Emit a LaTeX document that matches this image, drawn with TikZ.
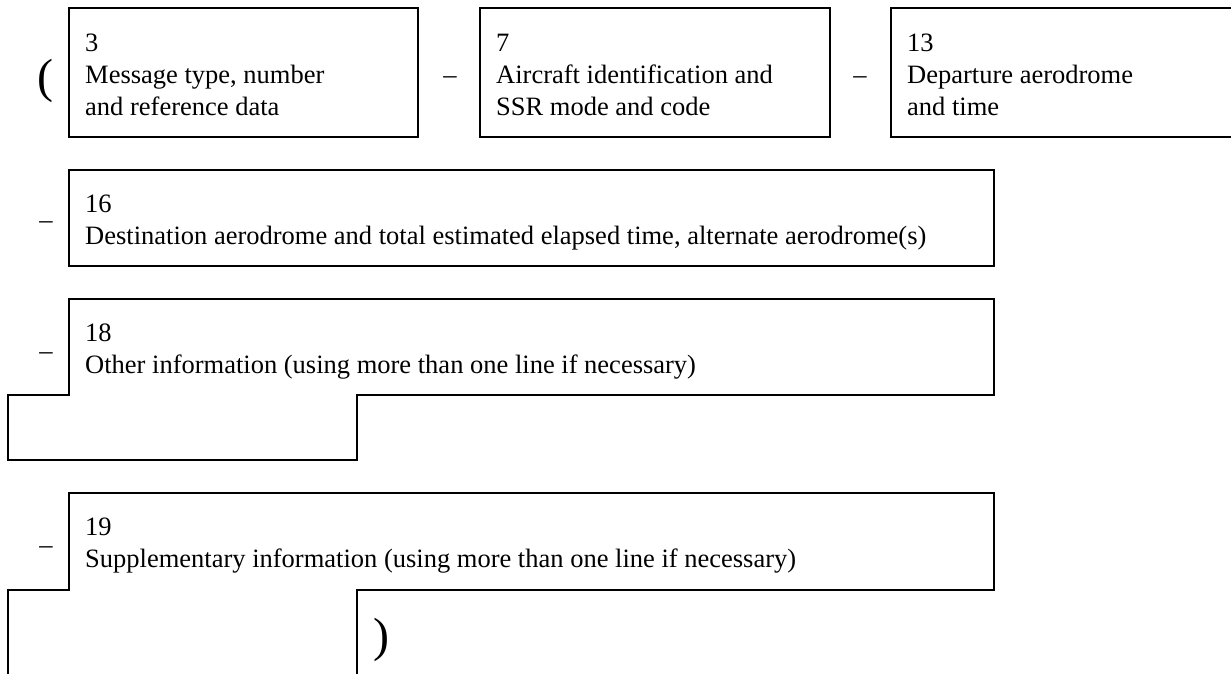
\documentclass[tikz,border=0pt]{standalone}
\usepackage{fontspec}
\setmainfont{Liberation Serif}
\begin{document}
\begin{tikzpicture}[x=1pt,y=-1pt,
  box/.style={draw=black, line width=1.2pt},
  txt/.style={anchor=base west, inner sep=0pt, align=left, font=\fontsize{26.5}{32}\selectfont},
  dashtxt/.style={inner sep=0pt, font=\fontsize{26.5}{32}\selectfont},
  paren/.style={inner sep=0pt, font=\fontsize{48}{50}\selectfont}]
\useasboundingbox (0,0) rectangle (1231,673);
\clip (0,0) rectangle (1231,673);
% top row boxes
\draw[box] (69,8) rectangle (418,137);
\draw[box] (480,8) rectangle (830,137);
\draw[box] (891,8) rectangle (1260,137);
% box 16
\draw[box] (69,170) rectangle (994,266);
% box 18
\draw[box] (69,299) -- (994,299) -- (994,395) -- (357,395) -- (357,460) -- (8,460) -- (8,395) -- (69,395) -- cycle;
% box 19
\draw[box] (8,700) -- (8,590) -- (69,590) -- (69,493) -- (994,493) -- (994,590) -- (357,590) -- (357,700);
% texts (anchored at the baseline of their last line)
\node[txt] (t3) at (85,115) {3\\Message type, number\\and reference data};
\node[txt] (t7) at (496,115) {7\\Aircraft identification and\\SSR mode and code};
\node[txt] (t13) at (907,115) {13\\Departure aerodrome\\and time};
\node[txt] (t16) at (85,244) {16\\Destination aerodrome and total estimated elapsed time, alternate aerodrome(s)};
\node[txt] (t18) at (85,373) {18\\Other information (using more than one line if necessary)};
\node[txt] (t19) at (85,567) {19\\Supplementary information (using more than one line if necessary)};
% separators
\node[dashtxt] (d1) at (450,80) {–};
\node[dashtxt] (d2) at (860,80) {–};
\node[dashtxt] (d3) at (46,225) {–};
\node[dashtxt] (d4) at (46,356) {–};
\node[dashtxt] (d5) at (46,550) {–};
\node[paren] (po) at (45,81) {(};
\node[paren] (pc) at (381,640) {)};
\end{tikzpicture}
\end{document}
